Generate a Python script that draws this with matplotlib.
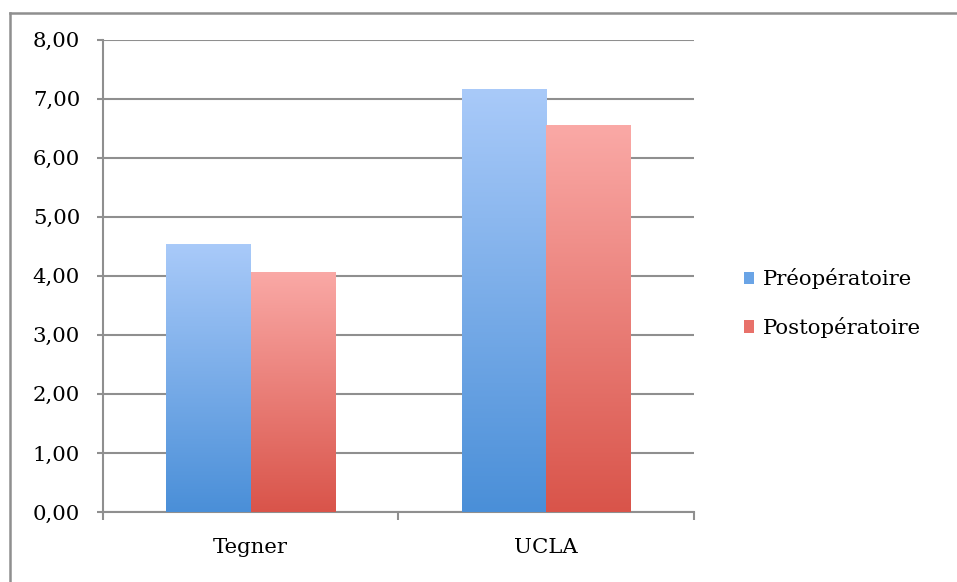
import numpy as np
import matplotlib
matplotlib.use("Agg")
import matplotlib.pyplot as plt
from matplotlib.colors import LinearSegmentedColormap
from matplotlib.patches import Patch
from matplotlib.lines import Line2D

categories = ["Tegner", "UCLA"]
pre_values = [4.53, 7.16]
post_values = [4.07, 6.55]
series_names = ["Préopératoire", "Postopératoire"]
y_ticks = [0, 1, 2, 3, 4, 5, 6, 7, 8]

plt.rcParams['font.family'] = ['DejaVu Serif', 'Liberation Serif']

blue_cmap = LinearSegmentedColormap.from_list("blue", ["#4a8fd8", "#a9caf9"])
red_cmap = LinearSegmentedColormap.from_list("red", ["#d9544a", "#faa9a6"])
grid_color = "#8f8f8f"
fs = 15.3

fig = plt.figure(figsize=(9.57, 5.82), dpi=100)
ax = fig.add_axes([0.1076, 0.1203, 0.6174, 0.8117])

x = np.arange(len(categories))
width = 0.286
bars_pre = ax.bar(x - width / 2, pre_values, width, color="none", zorder=3)
bars_post = ax.bar(x + width / 2, post_values, width, color="none", zorder=3)

# vertical gradient inside each bar
grad = np.linspace(0, 1, 256).reshape(-1, 1)
for bars, cmap in [(bars_pre, blue_cmap), (bars_post, red_cmap)]:
    for b in bars:
        x0, y0 = b.get_x(), b.get_y()
        w, h = b.get_width(), b.get_height()
        im = ax.imshow(grad, cmap=cmap, origin="lower", aspect="auto",
                       extent=[x0, x0 + w, y0, y0 + h], zorder=3)
        im.set_clip_path(b)

ax.set_xlim(-0.5, 1.5)
ax.set_ylim(0, 8)
ax.set_yticks(y_ticks)
ax.set_yticklabels([f"{v:.2f}".replace(".", ",") for v in y_ticks], fontsize=fs)
ax.set_xticks([-0.5, 0.5, 1.5])
ax.set_xticklabels([])
ax.set_xticks(x, minor=True)
ax.set_xticklabels(categories, minor=True, fontsize=fs)
ax.tick_params(axis="x", which="minor", length=0, pad=19)
ax.tick_params(axis="x", which="major", length=6, width=1.5, color=grid_color, direction="out")
ax.tick_params(axis="y", length=4.5, width=1.5, color=grid_color, pad=12)

ax.yaxis.grid(True, color=grid_color, linewidth=1.5, zorder=1)
ax.set_axisbelow(True)
for side in ["top", "right"]:
    ax.spines[side].set_visible(False)
for side in ["left", "bottom"]:
    ax.spines[side].set_color(grid_color)
    ax.spines[side].set_linewidth(1.5)

handles = [Patch(facecolor="#6aa4e6", edgecolor="none"),
           Patch(facecolor="#e8716a", edgecolor="none")]
fig.legend(handles, series_names, loc="center left", bbox_to_anchor=(0.757, 0.479),
           frameon=False, fontsize=fs, handlelength=0.5, handleheight=0.5,
           handletextpad=0.4, labelspacing=1.3)

# outer chart frame: only top and left edges are inside the image
fx = 9.5 / 957
fy = 1 - 12.5 / 582
fig.add_artist(Line2D([fx, 1.0], [fy, fy], transform=fig.transFigure,
                      color=grid_color, linewidth=1.8))
fig.add_artist(Line2D([fx, fx], [0.0, fy], transform=fig.transFigure,
                      color=grid_color, linewidth=1.8))

fig.savefig("out.png", dpi=100)
